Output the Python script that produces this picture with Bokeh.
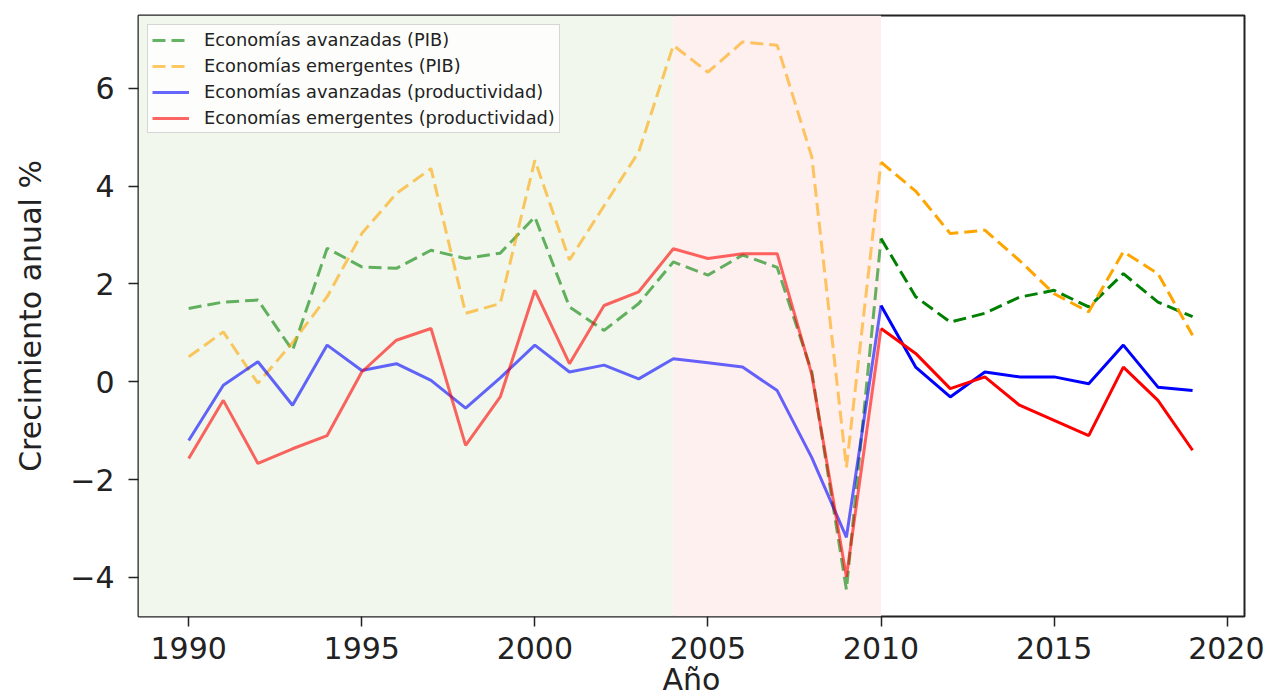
from bokeh.plotting import figure
from bokeh.models import Range1d, FixedTicker, BoxAnnotation, Legend, LegendItem
from bokeh.embed import file_html
from bokeh.resources import INLINE

# ---- data ----
years = list(range(1990, 2020))

pib_avanzadas = [1.50, 1.63, 1.67, 0.64, 2.73, 2.35, 2.32, 2.69, 2.52, 2.63,
                 3.37, 1.53, 1.05, 1.60, 2.45, 2.18, 2.59, 2.34, 0.20, -4.25,
                 2.93, 1.74, 1.22, 1.40, 1.73, 1.87, 1.53, 2.21, 1.63, 1.33]

pib_emergentes = [0.51, 1.02, -0.03, 0.80, 1.74, 3.03, 3.85, 4.36, 1.40, 1.60,
                  4.53, 2.49, 3.60, 4.70, 6.88, 6.33, 6.95, 6.88, 4.60, -1.75,
                  4.49, 3.90, 3.03, 3.10, 2.48, 1.80, 1.43, 2.66, 2.21, 0.95]

prod_avanzadas = [-1.20, -0.07, 0.41, -0.48, 0.75, 0.23, 0.37, 0.03, -0.54, 0.08,
                  0.75, 0.20, 0.34, 0.06, 0.47, 0.39, 0.30, -0.18, -1.55, -3.18,
                  1.56, 0.30, -0.31, 0.20, 0.10, 0.10, -0.04, 0.75, -0.11, -0.18]

prod_emergentes = [-1.57, -0.38, -1.67, -1.37, -1.10, 0.20, 0.85, 1.09, -1.30, -0.31,
                   1.87, 0.37, 1.56, 1.84, 2.72, 2.52, 2.62, 2.62, 0.15, -3.99,
                   1.09, 0.58, -0.14, 0.10, -0.48, -0.79, -1.10, 0.30, -0.38, -1.40]

labels = ["Economías avanzadas (PIB)", "Economías emergentes (PIB)",
          "Economías avanzadas (productividad)", "Economías emergentes (productividad)"]

xticks = [1990, 1995, 2000, 2005, 2010, 2015, 2020]
yticks = [-4, -2, 0, 2, 4, 6]

split_year = 2010
boom_start = 2004

FONT = "DejaVu Sans"

p = figure(frame_width=1106, frame_height=601,
           x_range=Range1d(1988.55, 2020.5), y_range=Range1d(-4.80, 7.49),
           output_backend="svg", toolbar_location=None,
           min_border_left=138, min_border_top=15, min_border_right=20,
           min_border_bottom=40)

p.background_fill_color = "white"
p.border_fill_color = "white"
p.grid.visible = False
p.outline_line_color = "#222222"
p.outline_line_width = 2

# shaded periods
p.add_layout(BoxAnnotation(right=boom_start, fill_color="#f1f7ec", fill_alpha=1.0,
                           line_color=None, level="underlay"))
p.add_layout(BoxAnnotation(left=boom_start, right=split_year, fill_color="#fdf0ef",
                           fill_alpha=1.0, line_color=None, level="underlay"))

series = [
    (pib_avanzadas, "green", "13 6"),
    (pib_emergentes, "orange", "13 6"),
    (prod_avanzadas, "blue", "solid"),
    (prod_emergentes, "red", "solid"),
]

idx = years.index(split_year)
items = []
for (vals, col, dash), lab in zip(series, labels):
    r1 = p.line(years[:idx + 1], vals[:idx + 1], line_color=col, line_width=3,
                line_dash=dash, line_alpha=0.6)
    p.line(years[idx:], vals[idx:], line_color=col, line_width=3,
           line_dash=dash, line_alpha=1.0)
    items.append(LegendItem(label=lab, renderers=[r1]))

legend = Legend(items=items, location="top_left", margin=9, padding=4,
                spacing=5, label_height=20, glyph_height=20, glyph_width=37,
                label_standoff=15, label_text_font=FONT,
                label_text_font_size="17.8px", label_text_color="#222222",
                background_fill_color="white", background_fill_alpha=0.85,
                border_line_color="#cccccc", border_line_alpha=0.8)
p.add_layout(legend)

# axes
for ax in (p.xaxis, p.yaxis):
    ax.axis_line_color = None
    ax.major_tick_line_color = "#222222"
    ax.major_tick_line_width = 1.5
    ax.major_tick_out = 10
    ax.major_tick_in = 0
    ax.minor_tick_line_color = None
    ax.major_label_text_font = FONT
    ax.major_label_text_font_size = "30px"
    ax.major_label_text_color = "#222222"
    ax.axis_label_text_font = FONT
    ax.axis_label_text_font_size = "30px"
    ax.axis_label_text_font_style = "normal"
    ax.axis_label_text_color = "#222222"

p.xaxis.ticker = FixedTicker(ticks=xticks)
p.yaxis.ticker = FixedTicker(ticks=yticks)
p.yaxis.major_label_overrides = {t: ("−" + str(-t) if t < 0 else str(t)) for t in yticks}
p.xaxis.major_label_standoff = 10
p.yaxis.major_label_standoff = 14
p.xaxis.axis_label = "Año"
p.yaxis.axis_label = "Crecimiento anual %"
p.xaxis.axis_label_standoff = 0
p.yaxis.axis_label_standoff = 19

open("out.html", "w").write(file_html(p, INLINE))
